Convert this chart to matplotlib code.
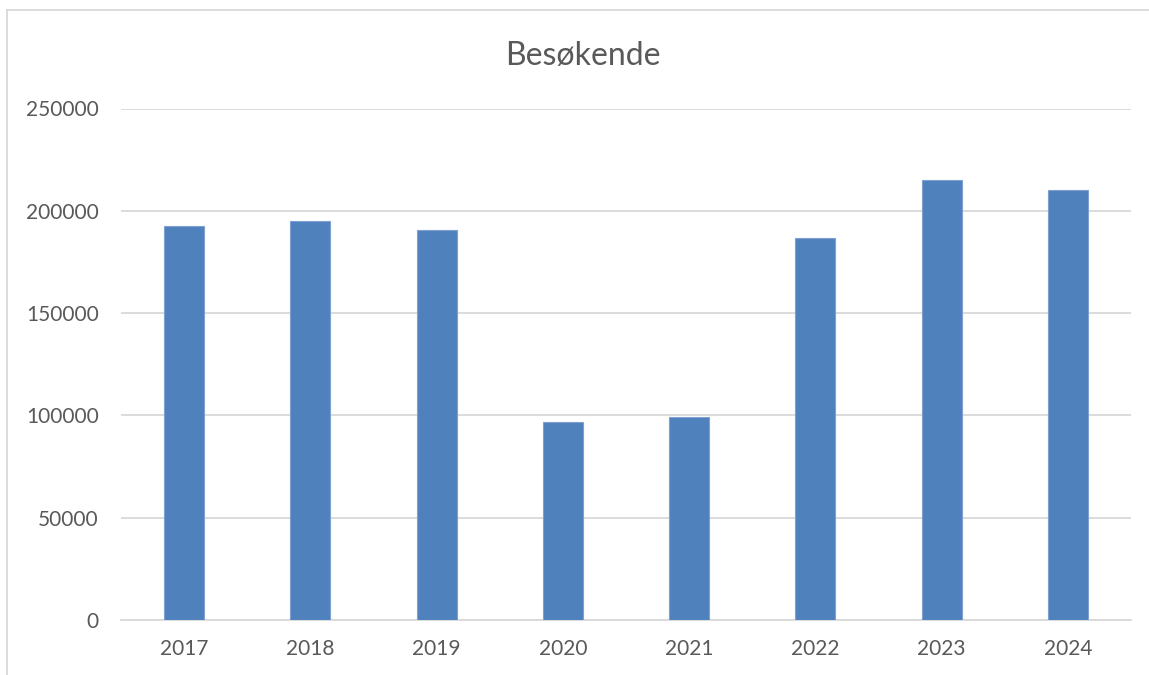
import matplotlib
matplotlib.use("Agg")
from matplotlib import pyplot as plt
from matplotlib.lines import Line2D

years = ["2017", "2018", "2019", "2020", "2021", "2022", "2023", "2024"]
visitors = [192600, 195000, 190500, 96600, 99400, 186600, 214900, 210000]
yticks = [0, 50000, 100000, 150000, 200000, 250000]

plt.rcParams["font.family"] = ["Lato", "DejaVu Sans"]
text_color = "#595959"
grid_color = "#D9D9D9"

fig = plt.figure(figsize=(11.49, 6.75), dpi=100)
ax = fig.add_axes([121 / 1149, 1 - 620 / 675, 1010 / 1149, 511.5 / 675])

x = range(len(years))
ax.bar(x, visitors, width=0.315, color="#4F81BD", edgecolor="#7EA1D2",
       linewidth=0.8, zorder=3)

ax.set_xlim(-0.5, len(years) - 0.5)
ax.set_ylim(0, 250000)
ax.set_yticks(yticks)
ax.set_yticklabels([str(v) for v in yticks])
ax.set_xticks(list(x))
ax.set_xticklabels(years)
ax.grid(axis="y", color=grid_color, linewidth=1.3, zorder=0)
for side in ["top", "right", "left"]:
    ax.spines[side].set_visible(False)
ax.spines["bottom"].set_color(grid_color)
ax.spines["bottom"].set_linewidth(1.3)
ax.tick_params(axis="both", length=0, labelsize=15, labelcolor=text_color)
ax.tick_params(axis="y", pad=16)
ax.tick_params(axis="x", pad=14)

fig.text(583 / 1149, 1 - 65 / 675, "Besøkende", ha="center", va="baseline",
         fontsize=23, color=text_color)

# chart frame (only top and left edges show)
fig.add_artist(Line2D([7.3 / 1149, 1], [1 - 9.5 / 675, 1 - 9.5 / 675],
                      transform=fig.transFigure, color=grid_color, linewidth=1.3))
fig.add_artist(Line2D([7.3 / 1149, 7.3 / 1149], [0, 1 - 9.5 / 675],
                      transform=fig.transFigure, color=grid_color, linewidth=1.3))

fig.savefig("out.png", dpi=100)
